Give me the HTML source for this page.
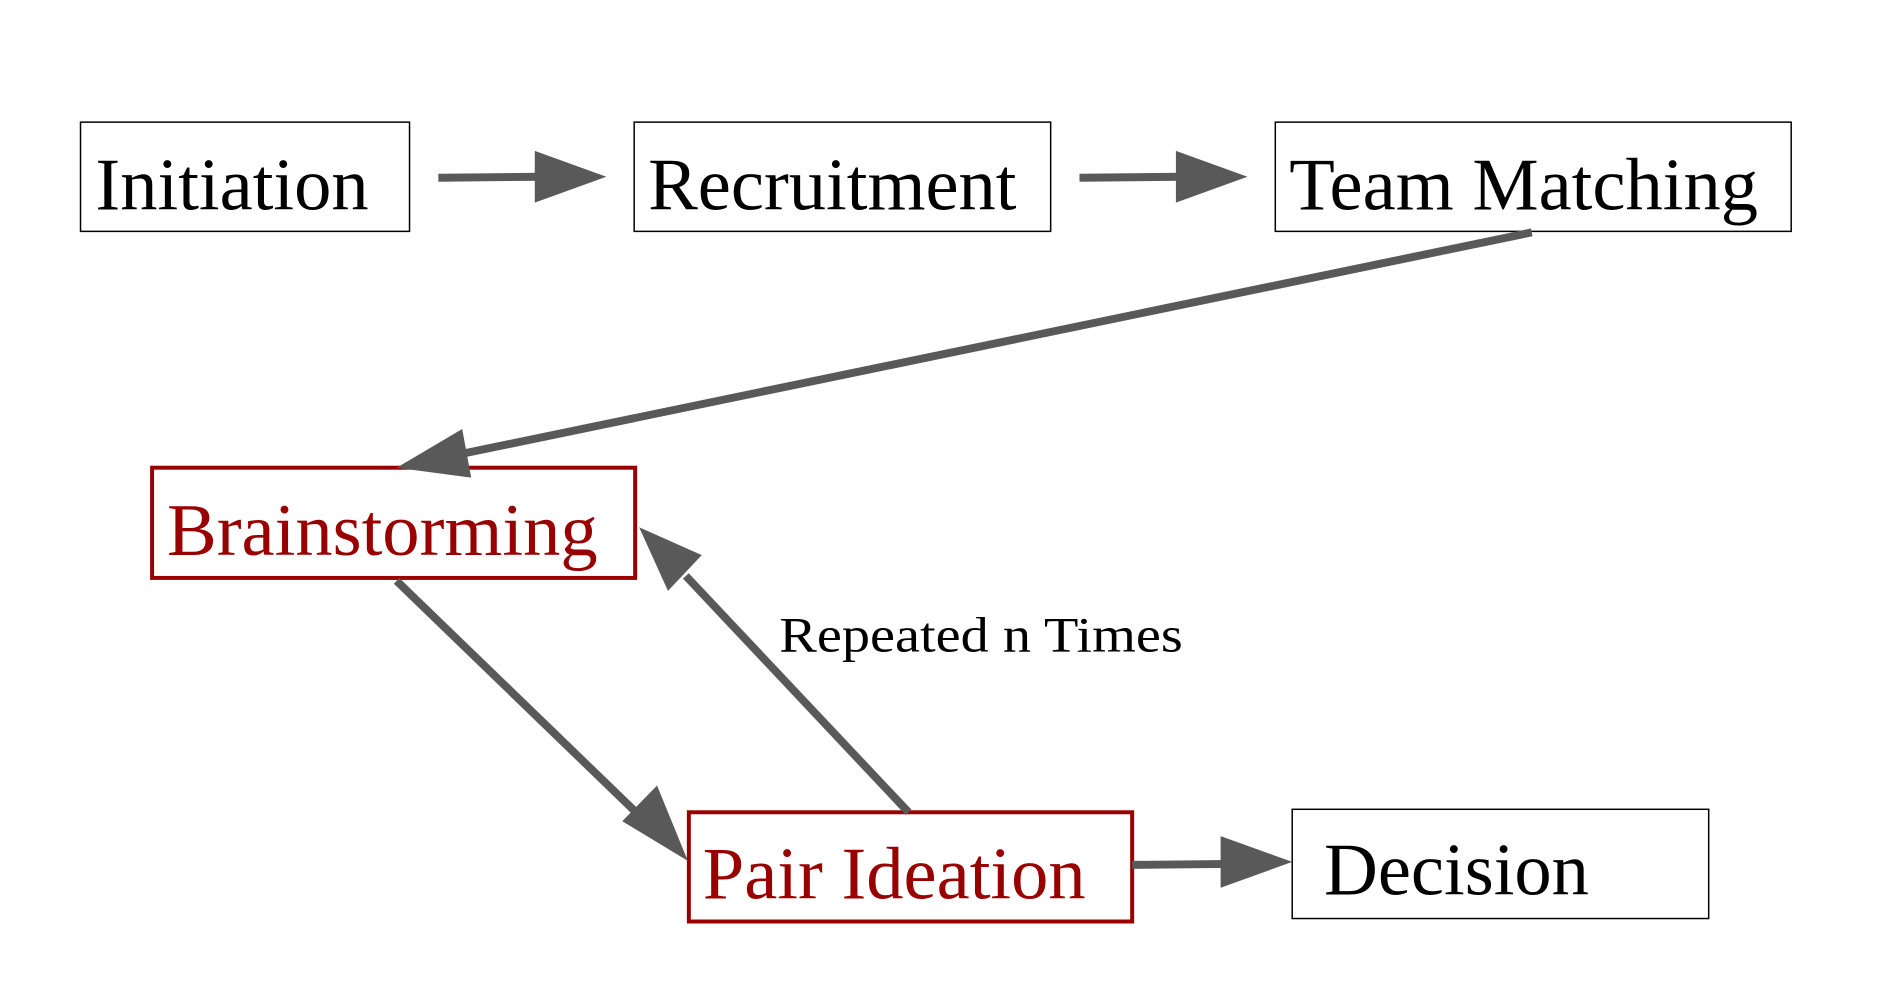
<!DOCTYPE html>
<html><head><meta charset="utf-8"><style>
html,body{margin:0;padding:0;background:#fff;}
svg{display:block;}
text{font-family:"Liberation Serif",serif;}
</style></head><body>
<svg width="1882" height="1002" viewBox="0 0 1882 1002" xmlns="http://www.w3.org/2000/svg">
<g transform="scale(0.994,0.993)">
<g fill="#fff" stroke="#000" stroke-width="1.5">
<rect x="81" y="123" width="331" height="110"/>
<rect x="638" y="123" width="419" height="110"/>
<rect x="1283" y="123" width="519" height="110"/>
<rect x="1300" y="815" width="419" height="110"/>
</g>
<g fill="#fff" stroke="#990000" stroke-width="4">
<rect x="153" y="471" width="486" height="111"/>
<rect x="693" y="818" width="446" height="110"/>
</g>
<g stroke="#595959" stroke-width="8" fill="none">
<line x1="441" y1="179" x2="545" y2="178"/>
<line x1="1086" y1="179" x2="1190" y2="178"/>
<line x1="1541" y1="234" x2="460" y2="458"/>
<line x1="399" y1="585" x2="645" y2="823"/>
<line x1="914" y1="818" x2="690" y2="580"/>
<line x1="1139" y1="871" x2="1235" y2="870"/>
</g>
<g fill="#595959">
<polygon points="610,178 538,152 538,204"/>
<polygon points="1255,178 1183,152 1183,204"/>
<polygon points="399,471 465,432 474,481"/>
<polygon points="692,867 626,827 661,791"/>
<polygon points="643,531 706,559 672,595"/>
<polygon points="1300,868 1228,842 1228,894"/>
</g>
<g font-size="75" fill="#000">
<text x="96" y="211">Initiation</text>
<text x="652" y="211">Recruitment</text>
<text x="1297" y="211">Team Matching</text>
<text x="1332" y="901">Decision</text>
</g>
<g font-size="75" fill="#990000">
<text x="168" y="559">Brainstorming</text>
<text x="707" y="905">Pair Ideation</text>
</g>
<text x="784" y="656" font-size="50" fill="#000" textLength="406" lengthAdjust="spacingAndGlyphs">Repeated n Times</text>
</g>
</svg>
</body></html>
